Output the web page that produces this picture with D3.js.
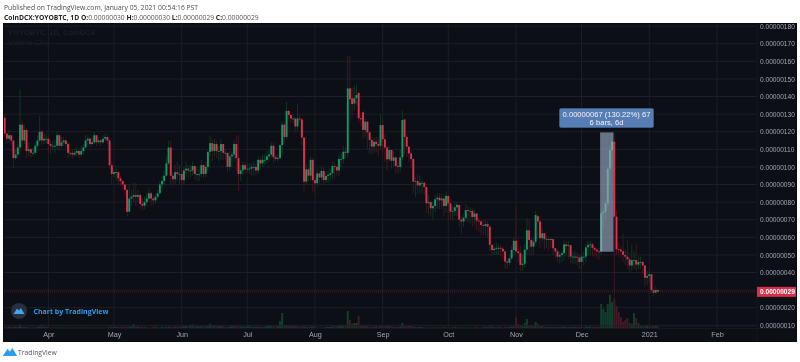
<!DOCTYPE html>
<html><head><meta charset="utf-8">
<script src="https://d3js.org/d3.v7.min.js"></script>
<style>
html,body{margin:0;padding:0;background:#fff;overflow:hidden}
svg{display:block;filter:blur(0.3px)}
text{font-family:"Liberation Sans",Arial,sans-serif}
.hd{font-family:"Open Sans",sans-serif}
</style></head><body><div id="c"></div>
<script>
const opens=[128,119,116,118,115,105,107,111,124,115,
121,109,110,108,108,112,115,120,115,116,
116,113,112,112,112,118,112,114,115,113,
108,108,107,108,109,107,109,111,115,116,
113,114,118,114,115,114,116,117,115,101,
96,97,97,93.5,92,90,87,74.5,82,83,
84,83,84,79,78,80,82,85,82,81,
83,85,90,92,95,102,111,95,93,97,
96,96,92.5,98,99,98,98,100.5,96,96,
96,101,96,100,108.5,113.5,109,113,109,109,
113,108,108,100,106,107,113,105,96,98,
101,98.6,99,99,100,100,98,104,102,104,
104,106,107,112,105.5,104.5,105,112.4,124,117,
131.8,129.5,127.5,127.5,123,127.5,127,116.7,91.6,98.6,
95,104,92.5,90.7,96.3,94,97.7,92.5,94.8,95.5,
96.4,100.5,100,98,104.5,104.5,108.6,108,144.6,139,
136,139,142,127.6,131,121,125.7,119.6,115.3,111.5,
114.3,113,112,123.8,115.7,111,104.3,109.6,103.5,105.4,
100.5,100,105.4,127,117,111.5,107.7,104.5,91.6,92,
89.5,91,91,88.6,79.3,80,76.5,77.8,81.6,82.5,
81,82,77.8,83.5,79.3,74.6,75,77,78.4,70,
69,71,75.5,75,75,71.5,73.5,69.5,69,67,
66.5,67.5,66,55.7,52.8,53.5,54,54,53.5,52,
46.2,45.5,48,52.8,58,52,51,44.3,45,53,
64,58.5,54.7,57.5,72,69,59.5,62.3,59,59,
58.5,59,53.8,52,49,50,51,56,55,55.5,
49,49,49,48.5,46,49,49,54.3,55.7,56,
54,53,52,52,73.6,74.5,79.3,99,109.6,114.3,
71.7,53.2,53,52,50,49,47.5,44,47,47,
44.5,46,46,44,37,38,39,30,28.5,30];
const highs=[130,119,121,118,113,110,113,144,126,124,
122,114,111,111,114,118,129,121,119,119,
118,115,115,115,120,119,117,117,116,114,
110,110,110,111,110,112,113,118,118,117,
117,120,118,117,116,118,119,119,116,103,
99,99,98,95,92,90,87,90,87,91,
91,87,85,82,83,85,88,86,84,85,
87,92,95,98,106,115,115,97,101,103,
101,108,100,103,101,101,103,101,100,100,
104,102,103,110,118,116,116,115,112,116,
113,110,108,109,109,115,118,118,101,103,
103,102,102,102,103,102,106,106,107,107,
109,110,114,114,107,107,113,126,125,137,
133,129,130,128,136,130,128,117,102,99,
106,105,95,99,98,100,100,97,98,99,
103,103,101,107,108,112,111,163,163,145,
146,147,143,130,132,128,126,120,116,117,
117,116,130,128,119,112,112,110,109,106,
103,110,132,127,119,112,109,105,94,96,
95,93,92,88,84,80,80,84,85,85,
85,83,86,84,82,78,80,80,79,72,
73,79,78,77,77,76,74,71,70,70,
70,69,67,55,56,57,56,56,55,53,
48,50,55,60,78,58,55,50,56,71,
70,60,60,75,73,70,65,62,61,60,
60,58,54,53,52,52,58,58,58,56,
52,52,51,50,51,52,56,58,58,57,
55,54,54,76,76,82,100,112,119.5,119.5,
75,57,55,62,53,58.5,49,56,52,56.6,
49,49,47,44,41,41,39,31,32,30];
const lows=[117,113,114,112,99,104,106,110,111,113,
105,106,105,106,107,111,114,112,113,113,
108,107,109,108,110,109,111,112,111,105,
106,105,106,106,105,106,107,111,112,111,
112,113,112,113,112,113,115,113,99,90,
94,92,90,89,87,84,72,75,78,80,
78,80,76,75,76,78,81,78,78,79,
82,85,88,90,95,101,90,89,90,92,
90,89,90,95,94,94,95,93,92,92,
94,94,94,98,106,103,106,105,103,104,
104,104,97,98,100,103,98,86.5,92,95,
96,97,96,95,95,95,96,98,100,101,
102,103,105,102,103,103,104,108,114,116,
127,125,125,120,120,125,112,85,90,92,
92,86,85,89,90,92,90,91,91,92,
93,93,95,95,100,102,105,105,126,128,
132,135,125,123,116,117,110,107,107,108,
108,106,110,108,103,98,103,99,100,96,
96,97,104,107,106,103,99,85,83,84,
85,85,84,74,73,72,70,74,76,76,
76,72,74,70,70,70,72,72,66,62,
66,69,68,68,66,67,64,63,61,61,
61,60,52,49,50,50,50,49,47,42,
42,44,47,50,50,46,41,41,43,50,
50,49,50,56,59,54,57,53,54,52,
54,50,48,46,45,46,47,49,48,45,
45,45,44,42,42,44,46,50,50,49,
49,48,47,50,65,70,78,90,100,11,
50,49,48,46,44,42,40,41,42,41,
42,42,39,32,33,34,28,26,28,29];
const closes=[119,116,118,115,105,107,111,124,115,121,
109,110,108,108,112,115,120,115,116,116,
113,112,112,112,118,112,114,115,113,108,
108,107,108,109,107,109,111,115,116,113,
114,118,114,115,114,116,117,115,101,96,
97,97,93.5,92,90,87,74.5,82,83,84,
83,84,79,78,80,82,85,82,81,83,
85,90,92,95,102,111,95,93,97,96,
96,92.5,98,99,98,98,100.5,96,96,96,
101,96,100,108.5,113.5,109,113,109,109,113,
108,108,100,106,107,113,105,96,98,101,
98.6,99,99,100,100,98,104,102,104,104,
106,107,112,105.5,104.5,105,112.4,124,117,131.8,
129.5,127.5,127.5,123,127.5,127,116.7,91.6,98.6,95,
104,92.5,90.7,96.3,94,97.7,92.5,94.8,95.5,96.4,
100.5,100,98,104.5,104.5,108.6,108,144.6,138.4,135.7,
139,140.8,127.6,127,121,125.7,119.6,115.3,111.5,114.3,
113,112,123.8,115.7,111,104.3,109.6,103.5,105.4,100.5,
100,105.4,126.6,117,111.5,107.7,104.5,91.6,92,89.5,
91,91,88.6,79.3,80,76.5,77.8,81.6,82.5,81,
82,77.8,83.5,79.3,74.6,75,77,78.4,70,69,
71,75.5,75,75,71.5,73.5,69.5,69,67,66.5,
67.5,66,55.7,52.8,53.5,54,54,53.5,52,46.2,
45.5,48,52.8,58,52,51,44.3,45,53,64,
58.5,54.7,57.5,72.7,69,59.5,62.3,59,59,58.5,
59,53.8,52,49,50,51,56,55,55.5,49,
49,49,48.5,46,49,49,54.3,55.7,56,54,
53,52,51.5,73.6,74.5,79.3,99,109.6,114.3,71.7,
53.2,53,52,50,49,47.5,44,47,47,44.5,
46,46,44,37,38,39,30,28.5,30,29];
const volumes=[1,1,1,1,1.5,1,1,3.5,1.5,1,
1,.5,.5,.5,.5,1,1.5,3.5,1,1,
1,.5,.5,.5,.5,.5,.5,.5,.5,.5,
.5,.5,.5,.5,.5,.5,.5,.5,.5,.5,
.5,.5,.5,.5,.5,.5,.5,.5,1.5,1.5,
1,1,1,1,1.5,1,1.5,1.5,1.5,4,
1.5,1.5,1,1,1,.5,.5,.5,1,1,
.5,.5,1,.5,1,1.5,1,1,1.5,1.5,
1,2,2,2,1.5,3,3.5,2.5,2,1.5,
2,2,1.5,2,4,3,3,2,2,2,
1.5,1,1,2,1.5,2,3,2,1.5,1.5,
1.5,2,2.5,1,1,1.5,1.5,1,1,1,
2,3,2.5,2,2,2,7,15,3,3,
3,2.5,2,2,1.5,1,2,3,1,1,
2,2,1.5,.5,.5,.5,.5,1,1,1,
2,2,2,2,3,3,3,17,8,4,
5,5,12,3,3,2,2,1.5,1,1,
2,1,2.5,3,2,2,2,1.5,1,1,
1,1.5,5,3,2.5,2,2,1.5,1,1,
1,1,.5,.5,.5,.5,.5,.5,.5,1,
.5,1,.5,.5,.5,.5,1,.5,1,.5,
.5,.5,.5,.5,.5,.5,1,.5,.5,1,
1,1,2,1.5,1,.5,1,1,.5,1,
1,1,1.5,1.5,11,4,3,2,5,9,
3,3,2,6,4,2,2,1,1,1,
1,1,1,1,1,1,1.5,1,1,1,
1,1,1,1,1,.5,1.5,1,1.5,1,
1,1,1,24,19,16,24,33,26,29,
22,16,11,6,8,10,5,4,15,10,
5,3,2,3,3,1,2,3,2.5,1.5];
const monthTicks=["2020-04-01","2020-05-01","2020-06-01","2020-07-01","2020-08-01","2020-09-01","2020-10-01","2020-11-01","2020-12-01","2021-01-01","2021-02-01"];
const monthLabels=["Apr","May","Jun","Jul","Aug","Sep","Oct","Nov","Dec","2021","Feb"];
const priceTicks=[10,20,30,40,50,60,70,80,90,100,110,120,130,140,150,160,170,180];
const hiddenPriceLabels=[30];
const lastPrice=29;
const measure={startDay:272.5,endDay:278.6,low:51.8,high:119.6,line1:"0.00000067 (130.22%) 67",line2:"6 bars, 6d"};

const W=800,H=362;
const L=4,R=796,T=24,B=341,AX=757,XB=328.5;
const svg=d3.select("#c").append("svg").attr("width",W).attr("height",H);
svg.append("rect").attr("width",W).attr("height",H).attr("fill","#fff");
const defs=svg.append("defs");
defs.append("clipPath").attr("id","pane").append("rect").attr("x",L).attr("y",T).attr("width",AX-L).attr("height",XB-T);
defs.append("clipPath").attr("id","all").append("rect").attr("x",L).attr("y",T).attr("width",R-L).attr("height",B-T);

svg.append("rect").attr("x",L-1).attr("y",T-1).attr("width",R-L+2).attr("height",B-T+2).attr("fill","#0a0a0c");
svg.append("rect").attr("x",L).attr("y",T).attr("width",R-L).attr("height",B-T).attr("fill","#0c0f16");

const start=Date.UTC(2020,2,12);
const days=opens.map((_,i)=>d3.utcDay.offset(new Date(start),i));
const x=d3.scaleUtc().domain([new Date(start),new Date(Date.UTC(2021,1,1))]).range([4.7,4.7+326*2.185]);
const y=d3.scaleLinear().domain([10,180]).range([325.3,325.3-170*1.76]);
const volY=d3.scaleLinear().domain([0,33]).range([328,295]);
const xAt=i=>x(new Date(start))+(x(new Date(start+864e5))-x(new Date(start)))*i;
const tickDates=monthTicks.map(d=>new Date(d+"T00:00:00Z"));

// gridlines
const pane=svg.append("g").attr("clip-path","url(#pane)");
pane.append("g").selectAll("line").data(priceTicks).join("line")
  .attr("x1",L).attr("x2",AX).attr("y1",d=>y(d)).attr("y2",d=>y(d)).attr("stroke","#1c1f25").attr("stroke-width",1);
pane.append("g").selectAll("line").data(tickDates).join("line")
  .attr("y1",T).attr("y2",XB).attr("x1",d=>x(d)).attr("x2",d=>x(d)).attr("stroke","#1c1f25").attr("stroke-width",1);

// volume
const idx=d3.range(opens.length);
const isUp=i=>closes[i]>=opens[i];
pane.append("g").selectAll("rect").data(idx).join("rect")
  .attr("x",i=>x(days[i])-1).attr("width",2)
  .attr("y",i=>volY(volumes[i])).attr("height",i=>volY(0)-volY(volumes[i]))
  .attr("fill",i=>isUp(i)?"#103f2e":"#431a25");
pane.append("line").attr("x1",L).attr("x2",AX).attr("y1",325.8).attr("y2",325.8).attr("stroke","#1c1f25");

// candles
pane.append("g").selectAll("line").data(idx).join("line")
  .attr("x1",i=>x(days[i])).attr("x2",i=>x(days[i]))
  .attr("y1",i=>y(highs[i])).attr("y2",i=>y(lows[i]))
  .attr("stroke",i=>isUp(i)?"#0c3a2a":"#431824").attr("stroke-width",0.9);
pane.append("g").selectAll("rect").data(idx).join("rect")
  .attr("x",i=>x(days[i])-0.95).attr("width",1.9)
  .attr("y",i=>y(Math.max(opens[i],closes[i])))
  .attr("height",i=>Math.max(0.8,Math.abs(y(opens[i])-y(closes[i]))))
  .attr("fill",i=>isUp(i)?"#119a66":"#e0304c");

// last price line
pane.append("line").attr("x1",L).attr("x2",AX).attr("y1",y(lastPrice)).attr("y2",y(lastPrice))
  .attr("stroke","#5c2430").attr("stroke-width",0.8).attr("stroke-dasharray","1 1");

// measure tool
pane.append("rect").attr("x",xAt(measure.startDay)).attr("width",xAt(measure.endDay)-xAt(measure.startDay))
  .attr("y",y(measure.high)).attr("height",y(measure.low)-y(measure.high))
  .attr("fill","#a5b4d0").attr("fill-opacity",0.6);
svg.append("rect").attr("x",559).attr("y",108).attr("width",95).attr("height",20).attr("rx",2).attr("fill","#567db4").attr("stroke","#0a0c12").attr("stroke-width",0.6);
svg.append("text").attr("x",606.5).attr("y",116.5).attr("text-anchor","middle").attr("font-size",7.6).attr("fill","#f2f5fa").text(measure.line1);
svg.append("text").attr("x",606.5).attr("y",125).attr("text-anchor","middle").attr("font-size",7.6).attr("fill","#f2f5fa").text(measure.line2);

// price axis
const clipAll=svg.append("g").attr("clip-path","url(#all)");
const yAxis=d3.axisRight(y).tickValues(priceTicks.filter(d=>!hiddenPriceLabels.includes(d))).tickSize(0).tickPadding(0)
  .tickFormat(d=>(d/1e8).toFixed(8));
const yg=clipAll.append("g").attr("transform",`translate(760,0)`).call(yAxis);
yg.select(".domain").remove();
yg.selectAll("text").attr("font-size",6.6).attr("fill","#a3a6ad").attr("font-family","Liberation Sans");
clipAll.append("line").attr("x1",AX).attr("x2",AX).attr("y1",T).attr("y2",B).attr("stroke","#15171c");

// time axis
clipAll.append("line").attr("x1",L).attr("x2",R).attr("y1",XB).attr("y2",XB).attr("stroke","#16181d");
const xAxis=d3.axisBottom(x).tickValues(tickDates).tickSize(0).tickPadding(0)
  .tickFormat((d,i)=>monthLabels[i]);
const xg=clipAll.append("g").attr("transform",`translate(0,332)`).call(xAxis);
xg.select(".domain").remove();
xg.selectAll("text").attr("font-size",7.2).attr("fill","#a3a6ad").attr("font-family","Liberation Sans");

// price label
svg.append("rect").attr("x",757).attr("y",y(lastPrice)-5).attr("width",39).attr("height",10).attr("fill","#d8304a");
svg.append("text").attr("x",760).attr("y",y(lastPrice)+2.4).attr("font-size",6.6).attr("fill","#fff").attr("font-weight","bold").text((lastPrice/1e8).toFixed(8));

// legend
svg.append("text").attr("x",8).attr("y",35).attr("font-size",7.5).attr("font-weight","bold").attr("fill","#1c1f27").text("YOYOBTC, 1D, CoinDCX");
svg.append("text").attr("x",8).attr("y",45).attr("font-size",7.5).attr("fill","#1c1f27").text("Volume (20)");

// watermark
svg.append("circle").attr("cx",19).attr("cy",311).attr("r",8).attr("fill","#2a2f3d");
const cloud="M-5.5 3 L-2 -2.4 L0 -0.4 L1.8 -3 L5.5 3 Z";
svg.append("path").attr("d",cloud).attr("transform","translate(19,311)").attr("fill","#42a5f0");
svg.append("text").attr("x",33.5).attr("y",314).attr("class","hd").attr("font-size",7).attr("font-weight","700").attr("fill","#2f9be8").text("Chart by TradingView");

// header
svg.append("text").attr("x",4).attr("y",9.5).attr("class","hd").attr("font-size",6.75).attr("fill","#4d4d4d")
  .text("Published on TradingView.com, January 05, 2021 00:54:16 PST");
const h2=svg.append("text").attr("x",4).attr("y",19.5).attr("class","hd").attr("font-size",6.75).attr("fill","#555");
h2.append("tspan").attr("font-weight","700").attr("fill","#222").text("CoinDCX:YOYOBTC, 1D ");
[["O:",opens],["H:",highs],["L:",lows],["C:",closes]].forEach(([k,a])=>{
  h2.append("tspan").attr("font-weight","700").attr("fill","#222").text(k);
  h2.append("tspan").text((a[a.length-1]/1e8).toFixed(8)+" ");
});

// footer
svg.append("path").attr("d",cloud).attr("transform","translate(10,352) scale(1.3)").attr("fill","#2a9bef");
svg.append("text").attr("x",18).attr("y",355).attr("class","hd").attr("font-size",6.8).attr("fill","#555").text("TradingView");
</script></body></html>
